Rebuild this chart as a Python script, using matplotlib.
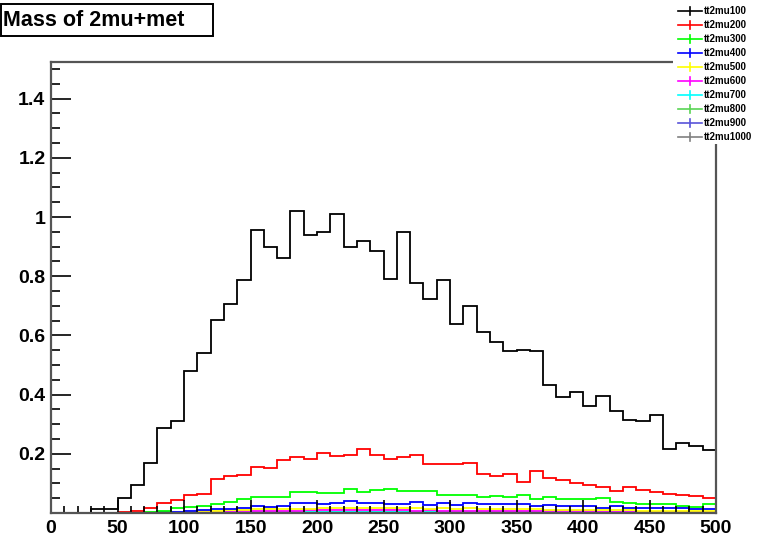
#!/usr/bin/env python3
"""
plot.py - Mass of 2mu+met, overlay of tt2mu samples (ROOT-like look)
"""

import numpy as np
import matplotlib.pyplot as plt
from matplotlib.patches import Rectangle

plt.rcParams['font.family'] = ['Liberation Sans', 'DejaVu Sans']
plt.rcParams['font.weight'] = 'bold'

# bin edges: 50 bins of width 10 from 0 to 500
edges = np.arange(0, 510, 10)

samples = ['tt2mu100', 'tt2mu200', 'tt2mu300', 'tt2mu400', 'tt2mu500',
           'tt2mu600', 'tt2mu700', 'tt2mu800', 'tt2mu900', 'tt2mu1000']
colors = ['#000000', '#ff0000', '#00ff00', '#0000ff', '#ffff00',
          '#ff00ff', '#00ffff', '#59d454', '#5954d9', '#808080']

tt2mu100 = [0, 0, 0, 0.013, 0.013, 0.05, 0.094, 0.17, 0.286, 0.311,
            0.48, 0.54, 0.653, 0.706, 0.788, 0.956, 0.90, 0.86, 1.02, 0.94,
            0.951, 1.009, 0.90, 0.92, 0.887, 0.79, 0.948, 0.778, 0.723, 0.787,
            0.637, 0.699, 0.613, 0.577, 0.548, 0.552, 0.548, 0.431, 0.392, 0.408,
            0.362, 0.395, 0.345, 0.315, 0.312, 0.331, 0.217, 0.235, 0.227, 0.214]
tt2mu200 = [0, 0, 0, 0, 0, 0.003, 0.008, 0.017, 0.033, 0.044,
            0.061, 0.064, 0.114, 0.125, 0.129, 0.156, 0.152, 0.178, 0.189, 0.181,
            0.202, 0.193, 0.197, 0.217, 0.197, 0.181, 0.19, 0.197, 0.164, 0.164,
            0.164, 0.17, 0.132, 0.125, 0.133, 0.106, 0.142, 0.117, 0.111, 0.101,
            0.094, 0.089, 0.073, 0.089, 0.078, 0.072, 0.064, 0.061, 0.056, 0.052]
tt2mu300 = [0, 0, 0, 0, 0, 0, 0.001, 0.003, 0.006, 0.017,
            0.02, 0.023, 0.03, 0.038, 0.046, 0.055, 0.055, 0.055, 0.07, 0.072,
            0.069, 0.069, 0.082, 0.072, 0.077, 0.082, 0.074, 0.074, 0.074, 0.061,
            0.061, 0.061, 0.053, 0.057, 0.053, 0.061, 0.046, 0.053, 0.048, 0.048,
            0.048, 0.05, 0.038, 0.033, 0.029, 0.029, 0.029, 0.024, 0.019, 0.029]
tt2mu400 = [0, 0, 0, 0, 0, 0, 0, 0, 0.003, 0.004,
            0.006, 0.01, 0.012, 0.015, 0.018, 0.023, 0.02, 0.025, 0.033, 0.033,
            0.029, 0.033, 0.04, 0.033, 0.033, 0.03, 0.03, 0.036, 0.028, 0.033,
            0.028, 0.033, 0.031, 0.029, 0.029, 0.029, 0.023, 0.027, 0.023, 0.023,
            0.023, 0.017, 0.023, 0.016, 0.017, 0.017, 0.017, 0.016, 0.013, 0.013]
tt2mu500 = [0, 0, 0, 0, 0, 0, 0, 0, 0, 0,
            0.003, 0.006, 0.008, 0.01, 0.011, 0.013, 0.013, 0.014, 0.015, 0.015,
            0.016, 0.016, 0.017, 0.018, 0.016, 0.017, 0.017, 0.016, 0.015, 0.016,
            0.015, 0.016, 0.015, 0.014, 0.014, 0.014, 0.012, 0.011, 0.011, 0.011,
            0.01, 0.01, 0.009, 0.009, 0.008, 0.008, 0.008, 0.007, 0.007, 0.006]
tt2mu600 = [0, 0, 0, 0, 0, 0, 0, 0, 0, 0,
            0, 0.002, 0.004, 0.005, 0.006, 0.007, 0.008, 0.008, 0.008, 0.009,
            0.009, 0.009, 0.01, 0.009, 0.009, 0.009, 0.009, 0.008, 0.009, 0.008,
            0.008, 0.008, 0.008, 0.007, 0.007, 0.007, 0.007, 0.006, 0.006, 0.006,
            0.006, 0.005, 0.005, 0.005, 0.005, 0.004, 0.004, 0.004, 0.004, 0.004]
tt2mu700 = [0, 0, 0, 0, 0, 0, 0, 0, 0, 0,
            0, 0, 0.001, 0.002, 0.002, 0.003, 0.003, 0.004, 0.004, 0.004,
            0.004, 0.005, 0.005, 0.005, 0.005, 0.005, 0.005, 0.005, 0.005, 0.005,
            0.005, 0.005, 0.004, 0.004, 0.004, 0.004, 0.004, 0.004, 0.004, 0.004,
            0.004, 0.004, 0.003, 0.003, 0.003, 0.003, 0.003, 0.003, 0.003, 0.003]
tt2mu800 = [0, 0, 0, 0, 0, 0, 0, 0, 0, 0,
            0, 0, 0, 0.001, 0.001, 0.001, 0.002, 0.002, 0.002, 0.002,
            0.002, 0.002, 0.003, 0.003, 0.003, 0.003, 0.003, 0.003, 0.003, 0.003,
            0.003, 0.003, 0.003, 0.003, 0.003, 0.003, 0.003, 0.003, 0.003, 0.003,
            0.003, 0.002, 0.002, 0.002, 0.002, 0.002, 0.002, 0.002, 0.002, 0.002]
tt2mu900 = [0, 0, 0, 0, 0, 0, 0, 0, 0, 0,
            0, 0, 0, 0, 0.001, 0.001, 0.001, 0.001, 0.001, 0.001,
            0.001, 0.002, 0.002, 0.002, 0.002, 0.002, 0.002, 0.002, 0.002, 0.002,
            0.002, 0.002, 0.002, 0.002, 0.002, 0.002, 0.002, 0.002, 0.002, 0.002,
            0.002, 0.002, 0.002, 0.002, 0.001, 0.001, 0.001, 0.001, 0.001, 0.001]
tt2mu1000 = [0, 0, 0, 0, 0, 0, 0, 0, 0, 0,
             0, 0, 0, 0, 0, 0.001, 0.001, 0.001, 0.001, 0.001,
             0.001, 0.001, 0.001, 0.001, 0.001, 0.001, 0.001, 0.001, 0.001, 0.001,
             0.001, 0.001, 0.001, 0.001, 0.001, 0.001, 0.001, 0.001, 0.001, 0.001,
             0.001, 0.001, 0.001, 0.001, 0.001, 0.001, 0.001, 0.001, 0.001, 0.001]

series = [tt2mu100, tt2mu200, tt2mu300, tt2mu400, tt2mu500,
          tt2mu600, tt2mu700, tt2mu800, tt2mu900, tt2mu1000]

x_ticks = [0, 50, 100, 150, 200, 250, 300, 350, 400, 450, 500]
y_ticks = [0.2, 0.4, 0.6, 0.8, 1.0, 1.2, 1.4]
y_ticklabels = ['0.2', '0.4', '0.6', '0.8', '1', '1.2', '1.4']

W, H = 758, 540
fig = plt.figure(figsize=(W / 100, H / 100), dpi=100)
ax = fig.add_axes([51 / W, 1 - 513 / H, (716 - 51) / W, (513 - 62) / H])

# draw in reverse so black ends on top
for vals, col in reversed(list(zip(series, colors))):
    ax.stairs(vals, edges, baseline=None, color=col, linewidth=1.3)

ax.set_xlim(0, 500)
ax.set_ylim(0, 1.524)

ax.set_xticks(x_ticks)
ax.set_xticks(np.arange(0, 501, 10), minor=True)
ax.set_yticks(y_ticks)
ax.set_yticklabels(y_ticklabels)
ax.set_yticks(np.arange(0.05, 1.52, 0.05), minor=True)

ax.tick_params(axis='both', which='both', direction='in', color='black',
               labelsize=14, top=False, right=False)
ax.tick_params(axis='y', which='major', length=14.5, width=1.2, pad=4)
ax.tick_params(axis='y', which='minor', length=6.5, width=1.2)
ax.tick_params(axis='x', which='major', length=9.5, width=1.2, pad=5)
ax.tick_params(axis='x', which='minor', length=5, width=1.2)
for lab in ax.get_xticklabels() + ax.get_yticklabels():
    lab.set_fontweight('bold')

for sp in ax.spines.values():
    sp.set_color('#555555')
    sp.set_linewidth(1.6)

# title box
fig.patches.append(Rectangle((0.5 / W, 1 - 36 / H), 212 / W, 32 / H,
                             transform=fig.transFigure, fill=False,
                             edgecolor='black', linewidth=1.4))
fig.text(3 / W, 1 - 20 / H, 'Mass of 2mu+met', fontsize=15.5,
         fontweight='bold', ha='left', va='center')

# legend drawn in its own pixel-coordinate box
lax = fig.add_axes([673 / W, 1 - 144 / H, 85 / W, 144 / H])
lax.set_xlim(673, 758)
lax.set_ylim(144, 0)
lax.axis('off')
lax.add_patch(Rectangle((673, 0), 85, 144, facecolor='white', edgecolor='none'))
for i, (name, col) in enumerate(zip(samples, colors)):
    yy = 11 + 14 * i
    lax.plot([678, 701.5], [yy, yy], color=col, linewidth=1.2)
    lax.plot([689.7, 689.7], [yy - 4, yy + 4], color=col, linewidth=1.2)
    lax.text(704, yy, name, fontsize=7, fontweight='bold',
             ha='left', va='center')

plt.savefig('out.png', dpi=100)
plt.close()
